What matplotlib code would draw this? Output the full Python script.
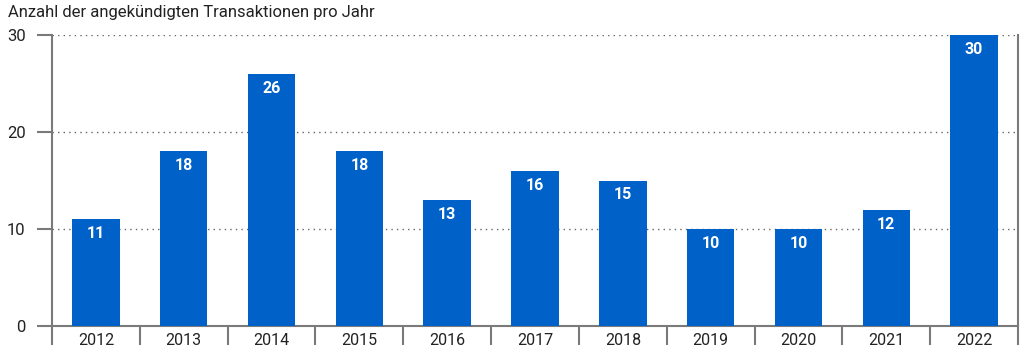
import matplotlib.pyplot as plt
import numpy as np

# data
years = ["2012", "2013", "2014", "2015", "2016", "2017", "2018", "2019", "2020", "2021", "2022"]
deals = [11, 18, 26, 18, 13, 16, 15, 10, 10, 12, 30]
y_ticks = [0, 10, 20, 30]
title = "Anzahl der angekündigten Transaktionen pro Jahr"

plt.rcParams['font.family'] = ['Roboto', 'DejaVu Sans']
gray = '#7a7a7a'
blue = '#0061c9'

fig = plt.figure(figsize=(10.24, 3.55), dpi=100)
ax = fig.add_axes([52 / 1024, 29 / 355, 966 / 1024, 291 / 355])

x = np.arange(len(years))
bars = ax.bar(x, deals, width=0.54, color=blue, zorder=3)

# value labels inside the top of each bar
for xi, v in zip(x, deals):
    ax.annotate(str(v), (xi, v), xytext=(0, -5), textcoords='offset points',
                ha='center', va='top', color='white', fontsize=11.5, fontweight='bold', zorder=4)

ax.set_xlim(-0.5, len(years) - 0.5)
ax.set_ylim(0, 30)
ax.set_yticks(y_ticks)
ax.set_yticklabels([str(t) for t in y_ticks], fontsize=12, color='#222222')
ax.tick_params(axis='y', length=11, width=1.5, color=gray, pad=8)

ax.set_xticks(x)
ax.set_xticklabels(years, fontsize=11.5, color='#222222')
ax.tick_params(axis='x', which='major', length=0, pad=5)
ax.set_xticks(np.arange(-0.5, len(years), 1.0), minor=True)
ax.tick_params(axis='x', which='minor', length=14, width=1.5, color=gray)

# dotted grid lines
for t in y_ticks[1:]:
    ax.axhline(t, color='#666666', linestyle=(0, (1, 3)), linewidth=1.0, zorder=1)

for side in ['left', 'right', 'bottom']:
    ax.spines[side].set_color(gray)
    ax.spines[side].set_linewidth(1.5)
ax.spines['top'].set_visible(False)

fig.text(8 / 1024, 1 - 13 / 355, title, fontsize=12, color='#222222', va='center', ha='left')

fig.savefig('out.png', dpi=100)
